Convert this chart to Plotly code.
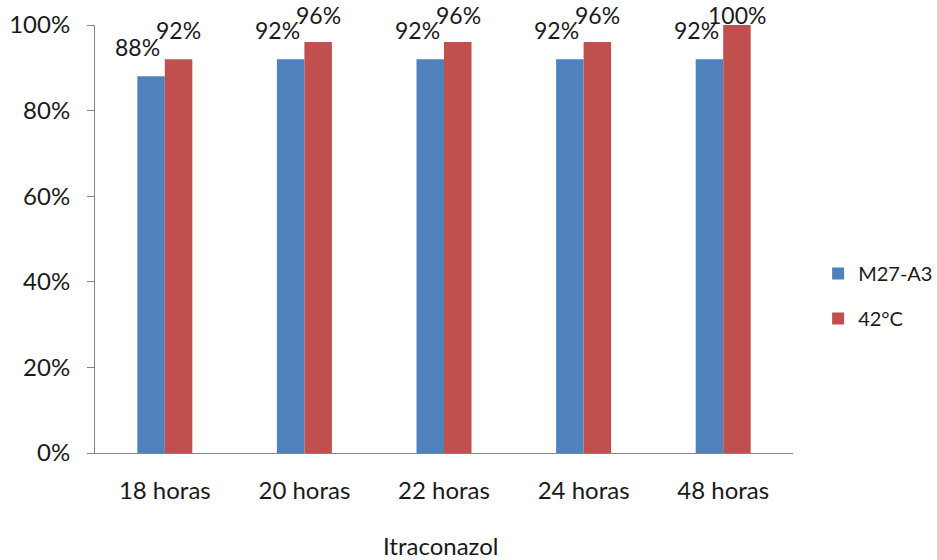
import plotly.graph_objects as go

categories = ["18 horas", "20 horas", "22 horas", "24 horas", "48 horas"]
m27_values = [0.88, 0.92, 0.92, 0.92, 0.92]
c42_values = [0.92, 0.96, 0.96, 0.96, 1.00]
series_names = ["M27-A3", "42°C"]
colors = ["#4F81BD", "#C0504D"]
x_title = "Itraconazol"

FONT = "Lato, Open Sans, sans-serif"
TXT = "#1a1a1a"
FS = 24
LFS = 23

W, H = 937, 560
L, R, T, B = 95, 144, 25, 107
PW = W - L - R
PH = H - T - B

fig = go.Figure()
for name, vals, col in zip(series_names, [m27_values, c42_values], colors):
    fig.add_trace(go.Bar(
        x=categories, y=vals, name=name, marker_color=col,
        marker_line_width=0, legendgroup=name,
    ))


def label_shift(v):
    top_px = T + (1 - v) * PH
    return min(13, top_px - 31)


for vals, xs in ((m27_values, -27), (c42_values, 14)):
    for cat, v in zip(categories, vals):
        fig.add_annotation(x=cat, y=v, text=f"{round(v*100)}%", showarrow=False,
                           xshift=xs, yshift=label_shift(v), yanchor="bottom",
                           font=dict(size=LFS, color=TXT, family=FONT))

fig.add_annotation(x=(441 - L) / PW, xref="paper",
                   y=-(545 - (H - B)) / PH, yref="paper", yanchor="middle",
                   text=x_title, showarrow=False,
                   font=dict(size=FS, color=TXT, family=FONT))

fig.update_layout(
    width=W, height=H,
    margin=dict(l=L, r=R, t=T, b=B, autoexpand=False),
    paper_bgcolor="white", plot_bgcolor="white",
    barmode="group", bargap=0.606, bargroupgap=0,
    font=dict(family=FONT, size=FS, color=TXT),
    showlegend=True,
    legend=dict(x=1.036, xanchor="left",
                y=(H - B - 296) / PH, yanchor="middle",
                traceorder="grouped", tracegroupgap=16, borderwidth=0,
                font=dict(size=20, family=FONT), itemwidth=30),
    xaxis=dict(showline=True, linecolor="#868686", linewidth=1, automargin=False,
               ticks="", showgrid=False, ticklabelstandoff=16),
    yaxis=dict(range=[0, 1], tickformat=".0%", dtick=0.2, showline=True,
               automargin=False,
               linecolor="#868686", linewidth=1, ticks="outside", ticklen=7,
               tickcolor="#868686", showgrid=False, zeroline=False,
               ticklabelstandoff=12),
)

fig.write_html("out.html", config={"displayModeBar": False},
               post_script="document.body.style.margin='0';")
